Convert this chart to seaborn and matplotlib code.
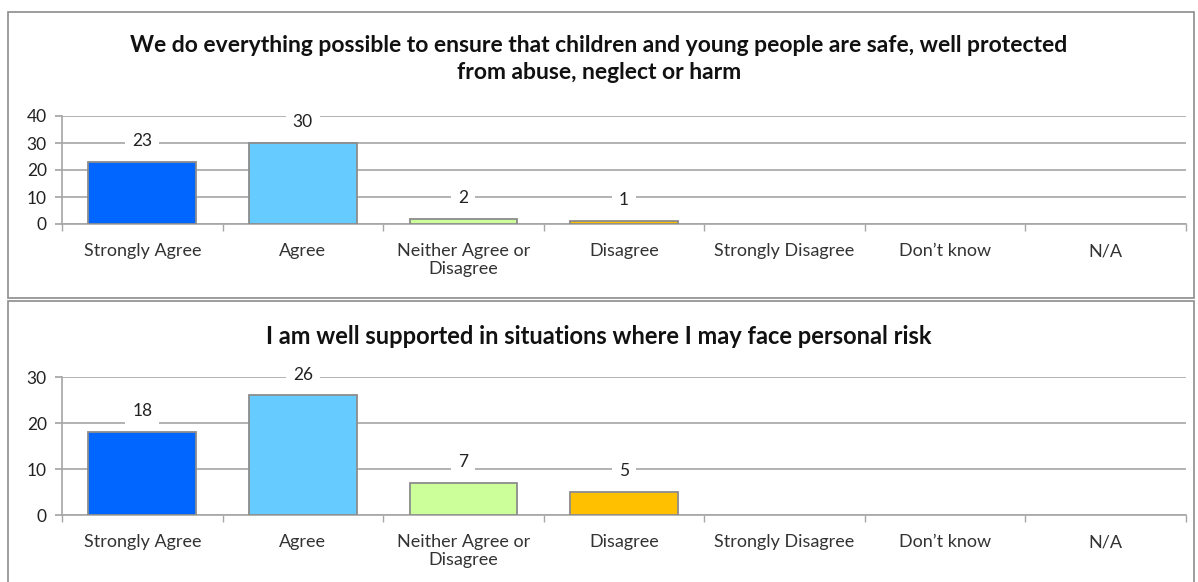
import matplotlib
matplotlib.use("Agg")
import matplotlib.pyplot as plt
from matplotlib.patches import Rectangle
import seaborn as sns
import pandas as pd

# categories and answers
categories = ["Strongly Agree", "Agree", "Neither Agree or\nDisagree", "Disagree",
              "Strongly Disagree", "Don\u2019t know", "N/A"]
safe_counts = [23, 30, 2, 1, 0, 0, 0]
support_counts = [18, 26, 7, 5, 0, 0, 0]
bar_colors = ["#0066FF", "#66CCFF", "#CCFF99", "#FFC000", "#9999FF", "#993366", "#FFFFCC"]

title_top = "We do everything possible to ensure that children and young people are safe, well protected\nfrom abuse, neglect or harm"
title_bottom = "I am well supported in situations where I may face personal risk"

sns.set_theme(style="white")
plt.rcParams["font.family"] = ["Lato", "DejaVu Sans"]

fig = plt.figure(figsize=(11.98, 5.82), dpi=100)
W, H = 1198, 582


def px_axes(left, top, right, bottom):
    return fig.add_axes([left / W, 1 - bottom / H, (right - left) / W, (bottom - top) / H])


def draw_panel(ax, counts, ymax, ystep):
    df = pd.DataFrame({"cat": categories, "n": counts})
    sns.barplot(data=df, x="cat", y="n", hue="cat", palette=bar_colors, legend=False,
                saturation=1, width=0.67, edgecolor="#8C8C8C", linewidth=1.3,
                ax=ax, zorder=3)
    # empty categories get no visible bar
    for patch, v in zip(ax.patches, counts):
        if v == 0:
            patch.set_visible(False)
    ax.set_ylim(0, ymax)
    ax.set_xlim(-0.5, len(categories) - 0.5)
    ax.set_yticks(range(0, ymax + 1, ystep))
    ax.yaxis.grid(True, color="#A6A6A6", linewidth=1.2, zorder=0)
    ax.set_axisbelow(True)
    ax.set_xlabel("")
    ax.set_ylabel("")
    for s in ["top", "right"]:
        ax.spines[s].set_visible(False)
    for s in ["left", "bottom"]:
        ax.spines[s].set_color("#A6A6A6")
        ax.spines[s].set_linewidth(1.2)
    ax.tick_params(axis="y", left=True, length=5, color="#A6A6A6", labelsize=12.5,
                   labelcolor="#222222", pad=6)
    ax.tick_params(axis="x", which="major", length=0, labelsize=13, labelcolor="#333333", pad=14)
    for lab in ax.get_xticklabels():
        lab.set_linespacing(1.1)
    ax.set_xticks([i - 0.5 for i in range(len(categories) + 1)], minor=True)
    ax.tick_params(axis="x", which="minor", bottom=True, length=5, color="#A6A6A6")
    for i, v in enumerate(counts):
        if v > 0:
            ax.annotate(str(v), (i, v), xytext=(0, 15), textcoords="offset points",
                        ha="center", va="center", fontsize=12.5, color="#222222",
                        bbox=dict(boxstyle="square,pad=0.4", fc="white", ec="none"),
                        zorder=5)


# panel frames
fig.patches.append(Rectangle((8 / W, 1 - 298 / H), 1186 / W, 286 / H, transform=fig.transFigure,
                             fill=False, edgecolor="#8C8C8C", linewidth=1.2))
fig.patches.append(Rectangle((8 / W, 1 - 590 / H), 1186 / W, 289 / H, transform=fig.transFigure,
                             fill=False, edgecolor="#8C8C8C", linewidth=1.2))

ax1 = px_axes(62, 116, 1186, 224)
draw_panel(ax1, safe_counts, 40, 10)
fig.text(0.5, 1 - 59 / H, title_top, ha="center", va="center", fontsize=16.5,
         fontweight="bold", color="#111111", linespacing=1.3)

ax2 = px_axes(62, 377, 1186, 515)
draw_panel(ax2, support_counts, 30, 10)
fig.text(0.5, 1 - 337 / H, title_bottom, ha="center", va="center", fontsize=17,
         fontweight="bold", color="#111111")

fig.savefig("out.png", dpi=100, facecolor="white")
